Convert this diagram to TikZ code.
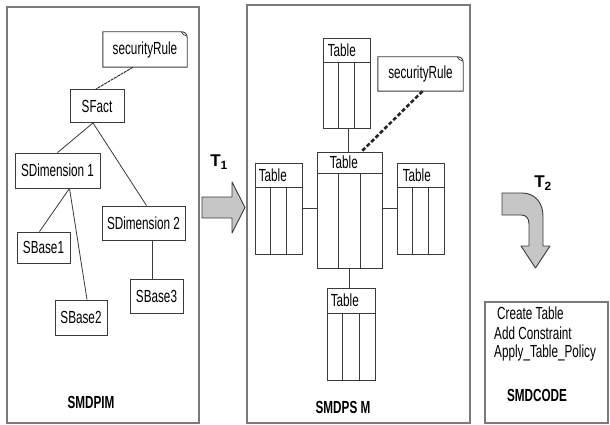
\documentclass[tikz,border=0pt]{standalone}
\usepackage{fontspec}
\setmainfont{Liberation Sans}[FakeStretch=0.67]
\newfontfamily\widefont{Liberation Sans}
\usetikzlibrary{calc}

\definecolor{edgegray}{HTML}{3A3A3A}
\definecolor{panelgray}{HTML}{7A7A7A}
\definecolor{arrowfill}{HTML}{C6C6C6}

\tikzset{
  txt/.style={font=\fontsize{17.5}{19}\selectfont},
  panel/.style={draw=panelgray, line width=1.3pt},
  umlbox/.style={txt, draw=edgegray, line width=0.9pt, rectangle, inner sep=0pt},
  notebox/.style={txt, draw=none, rectangle, inner sep=0pt},
  tbl/.style={draw=edgegray, line width=0.9pt, rectangle, inner sep=0pt},
  tbltext/.style={txt, inner sep=0pt, anchor=west},
  link/.style={draw=edgegray, line width=0.8pt},
  rulelink/.style={draw=edgegray!80!black, line width=1pt, dash pattern=on 3pt off 0.8pt},
  rulelinkthick/.style={draw=black!85, line width=2.6pt, dash pattern=on 4pt off 2.2pt},
  blockarrow/.style={draw=edgegray, line width=0.9pt, fill=arrowfill, line join=round},
  paneltitle/.style={font=\bfseries\fontsize{17.5}{19}\selectfont, inner sep=0pt},
  codeline/.style={txt, inner sep=0pt, anchor=west},
  tlabel/.style={font=\widefont\bfseries\fontsize{17}{17}\selectfont, inner sep=0pt}
}

% outline of a note box with a folded top-right corner
\newcommand{\noteoutline}[1]{%
  \draw[edgegray, line width=0.9pt]
    (#1.south west) -- (#1.north west) -- ($(#1.north east)+(-6,0)$)
    .. controls ($(#1.north east)+(-2,0)$) and ($(#1.north east)+(0,2)$) .. ($(#1.north east)+(0,6)$)
    -- (#1.south east) -- cycle;
  \draw[edgegray, line width=0.7pt]
    ($(#1.north east)+(-6,0)$) .. controls ($(#1.north east)+(-5,3)$) and ($(#1.north east)+(-3,3)$) .. ($(#1.north east)+(-1,4)$);
}

% database table: header strip and three columns
\newcommand{\dbtable}[6]{% name, cx, cy, width, height, header height
  \node[tbl, minimum width=#4pt, minimum height=#5pt] (#1) at (#2,#3) {};
  \draw[edgegray, line width=0.9pt] ($(#1.north west)+(0,#6)$) -- ($(#1.north east)+(0,#6)$);
  \draw[edgegray, line width=0.9pt] ($($(#1.north west)!1/3!(#1.north east)$)+(0,#6)$) -- ($(#1.south west)!1/3!(#1.south east)$);
  \draw[edgegray, line width=0.9pt] ($($(#1.north west)!2/3!(#1.north east)$)+(0,#6)$) -- ($(#1.south west)!2/3!(#1.south east)$);
}

\begin{document}
\begin{tikzpicture}[x=1pt, y=-1pt]
\useasboundingbox (0,0) rectangle (610,425);
\fill[white] (0,0) rectangle (610,425);

% ---------- PIM panel ----------
\draw[panel] (7,7) rectangle (199,423);

\node[notebox, minimum width=84pt, minimum height=35pt] (rulepim) at (145,49.5) {securityRule};
\noteoutline{rulepim}
\node[umlbox, minimum width=54pt, minimum height=33pt] (sfact) at (97,106) {SFact};
\node[umlbox, minimum width=85pt, minimum height=35pt] (sdim1) at (57.5,170.5) {SDimension 1};
\node[umlbox, minimum width=83pt, minimum height=34pt] (sdim2) at (143.5,223) {SDimension 2};
\node[umlbox, minimum width=53pt, minimum height=31pt] (sbase1) at (43.5,247.5) {SBase1};
\node[umlbox, minimum width=52pt, minimum height=35pt] (sbase2) at (81,317.5) {SBase2};
\node[umlbox, minimum width=53pt, minimum height=34pt] (sbase3) at (156.5,296) {SBase3};

\coordinate (b3top) at ($(sbase3.north)+(-4.5,0)$);

\draw[rulelink] ($(rulepim.south)+(-12,0)$) -- ($(sfact.north)+(-1,0)$);
\draw[link] ($(sfact.south)+(-4,0)$) -- (sdim1.north);
\draw[link] ($(sfact.south)+(-4,0)$) -- ($(sdim2.north)+(3,0)$);
\draw[link] ($(sdim1.south)+(12,0)$) -- ($(sbase1.north)+(-4,0)$);
\draw[link] ($(sdim1.south)+(12,0)$) -- ($(sbase2.north)+(6,0)$);
\draw[link] (b3top) -- (b3top |- sdim2.south);

\node[paneltitle] (pimtitle) at (91,402) {SMDPIM};

% ---------- transformation T1 ----------
\node[tlabel] (t1) at (219,162) {T\textsubscript{1}};
\draw[blockarrow] (202,197) -- (232,197) -- (232,182) -- (245,207.5) -- (232,233) -- (232,218) -- (202,218) -- cycle;

% ---------- PSM panel ----------
\draw[panel] (247,5) rectangle (470,423);

\dbtable{ttop}{346.5}{83}{47}{90}{25}
\dbtable{tctr}{349.5}{210}{65}{116}{22}
\dbtable{tleft}{278.5}{208.5}{47}{91}{25}
\dbtable{tright}{420.5}{208.5}{47}{91}{25}
\dbtable{tbot}{351}{334}{48}{92}{26}

\node[tbltext] (ttoplbl) at ($(ttop.north west)+(5,12.5)$) {Table};
\node[tbltext] (tctrlbl) at ($(tctr.north west)+(13,11)$) {Table};
\node[tbltext] (tleftlbl) at ($(tleft.north west)+(4,12.5)$) {Table};
\node[tbltext] (trightlbl) at ($(tright.north west)+(6,12.5)$) {Table};
\node[tbltext] (tbotlbl) at ($(tbot.north west)+(4,13)$) {Table};

\node[notebox, minimum width=85pt, minimum height=34pt] (rulepsm) at (420.5,74) {securityRule};
\noteoutline{rulepsm}

\coordinate (ttopfoot) at ($(ttop.south)+(1.5,0)$);
\coordinate (tbothead) at ($(tbot.north)+(-2,0)$);
\draw[link] (ttopfoot) -- (ttopfoot |- tctr.north);
\draw[link] (tleft.east) -- (tleft.east -| tctr.west);
\draw[link] (tright.west) -- (tright.west -| tctr.east);
\draw[link] (tbothead) -- (tbothead |- tctr.south);
\draw[rulelinkthick] ($(rulepsm.south)+(2,0)$) -- ($(tctr.north)+(12,0)$);

\node[paneltitle] (psmtitle) at (343,407) {SMDPS M};

% ---------- transformation T2 ----------
\node[tlabel] (t2) at (543,183) {T\textsubscript{2}};
\draw[blockarrow] (502,193) -- (522,193)
  .. controls (535,193) and (543,203) .. (543,216)
  -- (543,246) -- (550,246) -- (535.5,268) -- (521,246) -- (529,246) -- (529,224)
  .. controls (529,218) and (526,215) .. (521,215)
  -- (502,215) -- cycle;

% ---------- code panel ----------
\draw[panel] (485,302) rectangle (608,423);
\node[codeline] (c1) at (497,313) {Create Table};
\node[codeline] (c2) at (494,333) {Add Constraint};
\node[codeline] (c3) at (494,353) {Apply\_Table\_Policy};
\node[paneltitle] (codetitle) at (537,395) {SMDCODE};

\end{tikzpicture}
\end{document}
